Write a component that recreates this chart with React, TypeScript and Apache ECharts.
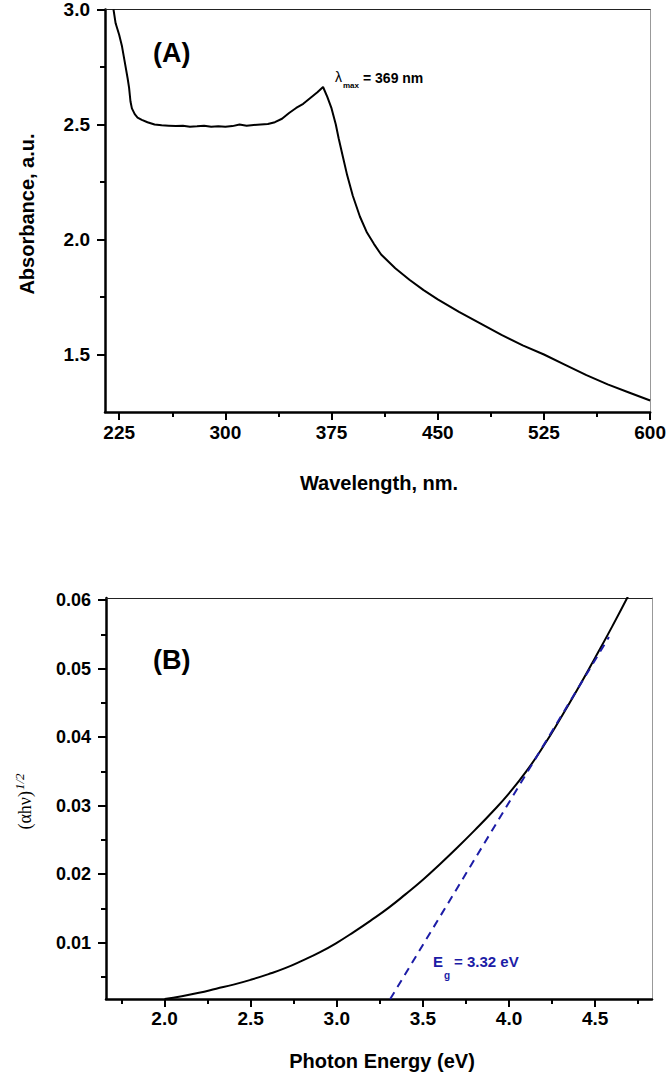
import React, { useEffect, useRef } from "react";
import * as echarts from "echarts";

// ---- Panel A: UV-Vis absorbance ----
const wavelengthA = [221, 222.5, 225, 227, 229, 231, 232, 233, 234, 236, 238, 241, 245, 250, 255, 260, 265, 270, 275, 280, 285, 290, 295, 300, 305, 310, 315, 320, 325, 330, 335, 340, 345, 350, 355, 360, 365, 369, 372, 375, 378, 380, 383, 386, 390, 395, 400, 405, 410, 420, 430, 440, 450, 465, 480, 495, 510, 525, 540, 555, 570, 585, 600];
const absorbanceA = [3.0, 2.94, 2.89, 2.84, 2.77, 2.7, 2.66, 2.6, 2.57, 2.545, 2.53, 2.52, 2.51, 2.5, 2.497, 2.495, 2.493, 2.495, 2.49, 2.492, 2.495, 2.49, 2.492, 2.49, 2.493, 2.5, 2.495, 2.498, 2.5, 2.502, 2.51, 2.525, 2.55, 2.572, 2.59, 2.615, 2.64, 2.663, 2.62, 2.57, 2.5, 2.44, 2.36, 2.28, 2.19, 2.1, 2.03, 1.98, 1.935, 1.875, 1.825, 1.78, 1.74, 1.685, 1.635, 1.585, 1.54, 1.5, 1.455, 1.41, 1.37, 1.335, 1.3];
const xTicksA = [225, 300, 375, 450, 525, 600];
const xMinorA = [262.5, 337.5, 412.5, 487.5, 562.5];
const yTicksA = [1.5, 2.0, 2.5, 3.0];
const yMinorA = [1.75, 2.25, 2.75];

// ---- Panel B: Tauc plot ----
const energyB = [2.0, 2.1, 2.2, 2.3, 2.4, 2.5, 2.6, 2.7, 2.8, 2.9, 3.0, 3.1, 3.2, 3.3, 3.4, 3.5, 3.6, 3.7, 3.8, 3.9, 4.0, 4.1, 4.2, 4.3, 4.4, 4.5, 4.6, 4.7];
const taucB = [0.0018, 0.0022, 0.0027, 0.0033, 0.0039, 0.0046, 0.0054, 0.0063, 0.0074, 0.0086, 0.01, 0.0116, 0.0133, 0.0151, 0.0171, 0.0192, 0.0215, 0.0239, 0.0264, 0.029, 0.0318, 0.035, 0.0387, 0.0428, 0.0471, 0.0516, 0.0562, 0.061];
const tangentE = [3.31, 4.58];
const tangentY = [0.0018, 0.0546];
const xTicksB = [2.0, 2.5, 3.0, 3.5, 4.0, 4.5];
const xMinorB = [1.75, 2.25, 2.75, 3.25, 3.75, 4.25, 4.75];
const yTicksB = [0.01, 0.02, 0.03, 0.04, 0.05, 0.06];
const yMinorB = [0.005, 0.015, 0.025, 0.035, 0.045, 0.055];

const SANS = '"Liberation Sans", Arial, sans-serif';
const SERIF = '"Liberation Serif", "Times New Roman", serif';
const BLUE = "#1c1ca6";

function mainAxis(gridIndex: number, min: number, max: number, ticks: number[], digits: number, fontSize: number, margin: number) {
  return {
    type: "value",
    gridIndex,
    min,
    max,
    splitLine: { show: false },
    axisLine: { show: true, onZero: false, lineStyle: { color: "#000", width: 2.5 } },
    axisTick: { show: true, customValues: ticks, length: 8, inside: false, lineStyle: { color: "#000", width: 2 } },
    axisLabel: {
      show: true,
      customValues: ticks,
      margin,
      color: "#000",
      fontSize,
      fontWeight: "bold",
      fontFamily: SANS,
      formatter: (v: number) => v.toFixed(digits),
    },
  };
}

function minorAxis(gridIndex: number, min: number, max: number, ticks: number[]) {
  return {
    type: "value",
    gridIndex,
    min,
    max,
    splitLine: { show: false },
    axisLine: { show: false, onZero: false },
    axisTick: { show: true, customValues: ticks, length: 5, inside: false, lineStyle: { color: "#000", width: 2 } },
    axisLabel: { show: false },
  };
}

function frameAxis(gridIndex: number, min: number, max: number, position: string, color: string) {
  return {
    type: "value",
    gridIndex,
    min,
    max,
    position,
    splitLine: { show: false },
    axisLine: { show: true, onZero: false, lineStyle: { color, width: 1 } },
    axisTick: { show: false },
    axisLabel: { show: false },
  };
}

export default function App() {
  const ref = useRef<HTMLDivElement>(null);
  useEffect(() => {
    if (!ref.current) return;
    const chart = echarts.init(ref.current, null, { renderer: "svg" });
    const xA = { min: 215, max: 600 };
    const yA = { min: 1.25, max: 3.0 };
    const xB = { min: 1.66, max: 4.83 };
    const yB = { min: 0.0018, max: 0.0603 };
    chart.setOption({
      animation: false,
      backgroundColor: "#fff",
      grid: [
        { left: 105, top: 9, right: 16, height: 403, containLabel: false },
        { left: 106, top: 598, right: 17, height: 401, containLabel: false },
      ],
      xAxis: [
        { ...mainAxis(0, xA.min, xA.max, xTicksA, 0, 19, 11), position: "bottom" },
        { ...minorAxis(0, xA.min, xA.max, xMinorA), position: "bottom" },
        frameAxis(0, xA.min, xA.max, "top", "#222"),
        { ...mainAxis(1, xB.min, xB.max, xTicksB, 1, 19, 10), position: "bottom" },
        { ...minorAxis(1, xB.min, xB.max, xMinorB), position: "bottom" },
        frameAxis(1, xB.min, xB.max, "top", "#222"),
      ],
      yAxis: [
        { ...mainAxis(0, yA.min, yA.max, yTicksA, 1, 19, 15), position: "left" },
        { ...minorAxis(0, yA.min, yA.max, yMinorA), position: "left" },
        frameAxis(0, yA.min, yA.max, "right", "#999"),
        { ...mainAxis(1, yB.min, yB.max, yTicksB, 2, 18, 15), position: "left" },
        { ...minorAxis(1, yB.min, yB.max, yMinorB), position: "left" },
        frameAxis(1, yB.min, yB.max, "right", "#999"),
      ],
      series: [
        {
          type: "line",
          xAxisIndex: 0,
          yAxisIndex: 0,
          data: wavelengthA.map((w, i) => [w, absorbanceA[i]]),
          showSymbol: false,
          symbol: "none",
          clip: true,
          lineStyle: { color: "#000", width: 2 },
        },
        {
          type: "line",
          xAxisIndex: 3,
          yAxisIndex: 3,
          data: energyB.map((e, i) => [e, taucB[i]]),
          showSymbol: false,
          symbol: "none",
          smooth: 0.5,
          clip: true,
          lineStyle: { color: "#000", width: 2 },
        },
        {
          type: "line",
          xAxisIndex: 3,
          yAxisIndex: 3,
          data: tangentE.map((e, i) => [e, tangentY[i]]),
          showSymbol: false,
          symbol: "none",
          clip: true,
          lineStyle: { color: BLUE, width: 2, type: [8, 6] },
        },
      ],
      graphic: [
        { type: "text", x: 153, y: 53, style: { text: "(A)", font: `bold 27px ${SANS}`, fill: "#000", align: "left", verticalAlign: "middle" } },
        { type: "text", x: 153, y: 660, style: { text: "(B)", font: `bold 27px ${SANS}`, fill: "#000", align: "left", verticalAlign: "middle" } },
        { type: "text", x: 335, y: 77, style: { text: "λ", font: `14px ${SANS}`, fill: "#000", align: "left", verticalAlign: "middle" } },
        { type: "text", x: 343, y: 85, style: { text: "max", font: `bold 8px ${SANS}`, fill: "#000", align: "left", verticalAlign: "middle" } },
        { type: "text", x: 363, y: 78, style: { text: "= 369 nm", font: `bold 14px ${SANS}`, fill: "#000", align: "left", verticalAlign: "middle" } },
        { type: "text", x: 433, y: 961, style: { text: "E", font: `bold 15px ${SANS}`, fill: BLUE, align: "left", verticalAlign: "middle" } },
        { type: "text", x: 444, y: 975, style: { text: "g", font: `bold 10px ${SANS}`, fill: BLUE, align: "left", verticalAlign: "middle" } },
        { type: "text", x: 454, y: 961, style: { text: "= 3.32 eV", font: `bold 15px ${SANS}`, fill: BLUE, align: "left", verticalAlign: "middle" } },
        { type: "text", x: 379, y: 483, style: { text: "Wavelength, nm.", font: `bold 20px ${SANS}`, fill: "#000", align: "center", verticalAlign: "middle" } },
        { type: "text", x: 382, y: 1061, style: { text: "Photon Energy (eV)", font: `bold 20px ${SANS}`, fill: "#000", align: "center", verticalAlign: "middle" } },
        { type: "text", x: 27, y: 214, rotation: Math.PI / 2, style: { text: "Absorbance, a.u.", font: `bold 20px ${SANS}`, fill: "#000", align: "center", verticalAlign: "middle" } },
        {
          type: "group",
          x: 25,
          y: 791,
          rotation: Math.PI / 2,
          children: [
            { type: "text", x: 0, y: 0, style: { text: "(αhν)", font: `18px ${SERIF}`, fill: "#000", align: "right", verticalAlign: "middle" } },
            { type: "text", x: 1, y: -6, style: { text: "1/2", font: `italic 13px ${SERIF}`, fill: "#000", align: "left", verticalAlign: "middle" } },
          ],
        },
      ],
    });
    return () => chart.dispose();
  }, []);
  return <div ref={ref} style={{ position: "absolute", left: 0, top: 0, width: 669, height: 1074 }} />;
}
